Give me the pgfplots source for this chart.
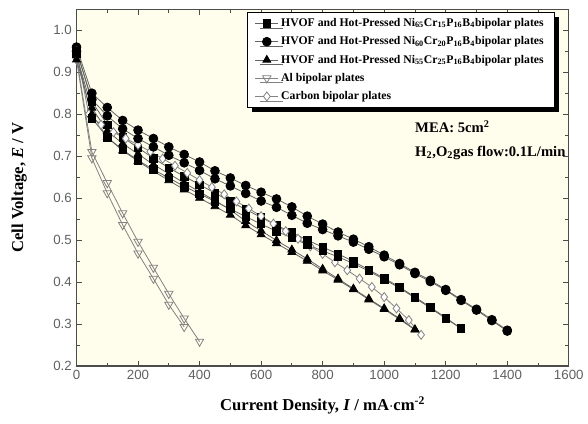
\documentclass[border=0pt]{standalone}
\usepackage{fontspec}
\setmainfont{Liberation Serif}
\setsansfont{Liberation Sans}
\usepackage{pgfplots}
\pgfplotsset{compat=1.18}
\usetikzlibrary{shadows}
\definecolor{bg}{RGB}{255,253,236}
\definecolor{ln}{RGB}{100,100,100}
\definecolor{lo}{RGB}{130,130,130}
\begin{document}
\begin{tikzpicture}
\begin{axis}[
 scale only axis, width=370pt, height=268pt,
 at={(0,0)}, anchor=south west,
 xmin=0, xmax=1600, ymin=0.2, ymax=1.05,
 xtick={0,200,400,600,800,1000,1200,1400,1600}, minor x tick num=1,
 ytick={0.2,0.3,0.4,0.5,0.6,0.7,0.8,0.9,1.0}, minor y tick num=1,
 tick align=inside, major tick length=4pt, minor tick length=2.5pt,
 tick style={gray!60!black, line width=0.6pt},
 axis background/.style={fill=bg},
 axis line style={gray!60!black, line width=1pt},
 /pgf/number format/assume math mode=true,
 ticklabel style={font=\sffamily\fontsize{10}{10}\selectfont, text=gray!75!black},
 yticklabel style={/pgf/number format/.cd, fixed, fixed zerofill, precision=1},
 xticklabel style={/pgf/number format/.cd, 1000 sep={}},
 xlabel={\bfseries Current Density, \textbf{\textit{I}} / mA$\cdot$cm\textsuperscript{-2}},
 ylabel={\bfseries Cell Voltage, \textbf{\textit{E}} / V},
 label style={font=\fontsize{12.5}{14}\selectfont},
 xlabel style={yshift=-6pt},
 ylabel style={yshift=13pt},
 legend cell align=left,
 legend style={at={(rel axis cs:0.346,0.992)}, anchor=north west,
   font=\bfseries\fontsize{8.8}{10}\selectfont, draw=black, fill=white,
   row sep=2.1pt, inner xsep=6pt, inner ysep=2.5pt,
   general shadow={fill=black, shadow xshift=3.5pt, shadow yshift=-3.5pt}},
 every axis plot/.append style={line width=0.6pt},
]
% Ni65Cr15P16B4 squares
\addplot[color=ln, mark=square*, mark size=2.8pt, mark options={fill=black, draw=black}] coordinates {
(0,0.955)(50,0.83)(100,0.775)(150,0.745)(200,0.72)(250,0.695)(300,0.672)(350,0.652)(400,0.632)(450,0.612)(500,0.592)(550,0.573)(600,0.554)(650,0.535)(700,0.518)(750,0.50)(800,0.483)(850,0.467)(900,0.449)(950,0.429)(1000,0.409)(1050,0.388)(1100,0.364)(1150,0.340)(1200,0.315)(1250,0.289)};
\addlegendentry{HVOF and Hot-Pressed Ni\textsubscript{65}Cr\textsubscript{15}P\textsubscript{16}B\textsubscript{4}bipolar plates}
% Ni60Cr20P16B4 circles
\addplot[color=ln, mark=*, mark size=3.3pt, mark options={fill=black, draw=black}] coordinates {
(0,0.96)(50,0.85)(100,0.816)(150,0.785)(200,0.762)(250,0.742)(300,0.722)(350,0.704)(400,0.686)(450,0.665)(500,0.648)(550,0.630)(600,0.614)(650,0.598)(700,0.579)(750,0.557)(800,0.538)(850,0.519)(900,0.502)(950,0.484)(1000,0.464)(1050,0.444)(1100,0.423)(1150,0.404)(1200,0.382)(1250,0.358)(1300,0.335)(1350,0.31)(1400,0.285)};
\addlegendentry{HVOF and Hot-Pressed Ni\textsubscript{60}Cr\textsubscript{20}P\textsubscript{16}B\textsubscript{4}bipolar plates}
% Ni55Cr25P16B4 triangles
\addplot[color=ln, mark=triangle*, mark size=3.4pt, mark options={fill=black, draw=black}] coordinates {
(0,0.94)(50,0.815)(100,0.76)(150,0.73)(200,0.705)(250,0.68)(300,0.658)(350,0.636)(400,0.615)(450,0.594)(500,0.572)(550,0.545)(600,0.522)(650,0.499)(700,0.477)(750,0.455)(800,0.431)(850,0.408)(900,0.384)(950,0.36)(1000,0.337)(1050,0.313)(1100,0.287)};
\addlegendentry{HVOF and Hot-Pressed Ni\textsubscript{55}Cr\textsubscript{25}P\textsubscript{16}B\textsubscript{4}bipolar plates}
% Al
\addplot[color=lo, mark=triangle, mark size=3.6pt, mark options={rotate=180, fill=white, draw=lo}] coordinates {
(0,0.935)(50,0.71)(100,0.636)(150,0.564)(200,0.496)(250,0.434)(300,0.372)(350,0.313)(400,0.258)};
\addlegendentry{Al bipolar plates}
% Carbon
\addplot[color=lo, mark=diamond*, mark size=3.4pt, mark options={fill=white, draw=lo}] coordinates {
(0,0.95)(40,0.80)(80,0.775)(120,0.757)(160,0.742)(200,0.727)(240,0.711)(280,0.694)(320,0.677)(360,0.66)(400,0.643)(440,0.626)(480,0.609)(520,0.592)(560,0.575)(600,0.557)(640,0.539)(680,0.521)(720,0.503)(760,0.485)(800,0.467)(840,0.447)(880,0.428)(920,0.408)(960,0.388)(1000,0.364)(1040,0.337)(1080,0.309)(1120,0.274)};
\addlegendentry{Carbon bipolar plates}
% second runs
\addplot[forget plot, color=lo, mark=triangle, mark size=3.6pt, mark options={rotate=180, fill=white, draw=lo}] coordinates {
(0,0.93)(50,0.695)(100,0.612)(150,0.536)(200,0.468)(250,0.408)(300,0.346)(350,0.293)};
\addplot[forget plot, color=ln, mark=square*, mark size=2.8pt, mark options={fill=black, draw=black}] coordinates {
(0,0.945)(50,0.79)(100,0.745)(150,0.715)(200,0.69)(250,0.668)(300,0.648)(350,0.628)(400,0.61)(450,0.592)(500,0.574)(550,0.556)(600,0.538)(650,0.521)(700,0.505)(750,0.489)(800,0.474)(850,0.46)(900,0.444)(950,0.426)(1000,0.406)(1050,0.386)(1100,0.362)(1150,0.338)(1200,0.313)(1250,0.289)};
\addplot[forget plot, color=ln, mark=*, mark size=3.3pt, mark options={fill=black, draw=black}] coordinates {
(0,0.95)(50,0.835)(100,0.796)(150,0.765)(200,0.742)(250,0.722)(300,0.702)(350,0.684)(400,0.666)(450,0.646)(500,0.629)(550,0.611)(600,0.593)(650,0.578)(700,0.559)(750,0.540)(800,0.525)(850,0.510)(900,0.495)(950,0.478)(1000,0.460)(1050,0.441)(1100,0.420)(1150,0.401)(1200,0.380)(1250,0.356)(1300,0.333)(1350,0.308)(1400,0.283)};
\addplot[forget plot, color=ln, mark=triangle*, mark size=3.4pt, mark options={fill=black, draw=black}] coordinates {
(0,0.93)(50,0.80)(100,0.745)(150,0.713)(200,0.688)(250,0.664)(300,0.642)(350,0.62)(400,0.60)(450,0.58)(500,0.56)(550,0.535)(600,0.513)(650,0.492)(700,0.471)(750,0.45)(800,0.427)(850,0.405)(900,0.382)(950,0.358)(1000,0.335)(1050,0.311)(1100,0.286)};
\node[anchor=west, font=\bfseries\fontsize{11}{13}\selectfont, inner sep=0pt] at (axis cs:1100,0.77) {MEA: 5cm\textsuperscript{2}};
\node[anchor=west, font=\bfseries\fontsize{11}{13}\selectfont, inner sep=0pt] at (axis cs:1100,0.707) {H\textsubscript{2},O\textsubscript{2}gas flow:0.1L/min};
\end{axis}
\useasboundingbox (-57.5pt,-43.5pt) rectangle (383.5pt,275pt);
\end{tikzpicture}
\end{document}
